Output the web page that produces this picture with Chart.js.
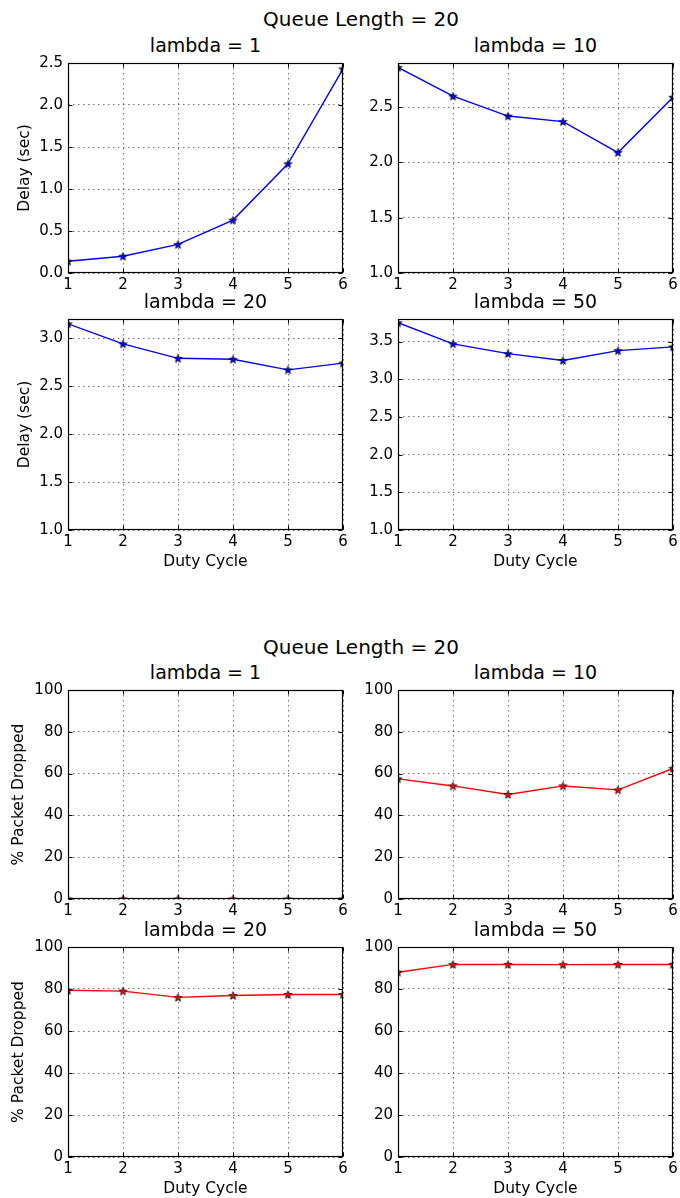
<!DOCTYPE html>
<html>
<head>
<meta charset="utf-8">
<script src="https://cdn.jsdelivr.net/npm/chart.js@4.4.1/dist/chart.umd.min.js"></script>
<style>
body { margin: 0; background: #fff; width: 680px; height: 1198px; position: relative; overflow: hidden; font-family: "DejaVu Sans", sans-serif; }
.t { position: absolute; transform: translate(-50%, -50%); white-space: nowrap; color: #000; line-height: normal; }
.panel { position: absolute; }
</style>
</head>
<body>
<script>
// data
const dutyCycle = [1, 2, 3, 4, 5, 6];

const delayL1  = [0.14, 0.20, 0.34, 0.63, 1.30, 2.43];
const delayL10 = [2.86, 2.60, 2.42, 2.37, 2.09, 2.59];
const delayL20 = [3.15, 2.94, 2.79, 2.78, 2.67, 2.74];
const delayL50 = [3.75, 3.47, 3.34, 3.25, 3.38, 3.43];

const dropL1  = [0, 0, 0, 0, 0, 0];
const dropL10 = [57.5, 54.1, 50.0, 54.1, 52.2, 62.5];
const dropL20 = [79.4, 79.0, 76.0, 76.9, 77.4, 77.4];
const dropL50 = [88.0, 91.7, 91.7, 91.6, 91.7, 91.7];

const figTitle = 'Queue Length = 20';
const delayLabel = 'Delay (sec)';
const dropLabel = '% Packet Dropped';
const xLabel = 'Duty Cycle';

Chart.defaults.font.family = '"DejaVu Sans", sans-serif';
Chart.defaults.color = '#000';

function addText(txt, cx, cy, size) {
    const d = document.createElement('div');
    d.className = 't';
    d.textContent = txt;
    d.style.left = cx + 'px';
    d.style.top = cy + 'px';
    d.style.fontSize = size + 'px';
    document.body.appendChild(d);
}

// filled 5 point star like matplotlib's '*'
function starImage(fill) {
    const c = document.createElement('canvas');
    c.width = 11; c.height = 11;
    const g = c.getContext('2d');
    g.beginPath();
    for (let i = 0; i < 10; i++) {
        const r = i % 2 ? 1.8 : 4.3;
        const a = -Math.PI / 2 + i * Math.PI / 5;
        const px = 5.5 + r * Math.cos(a), py = 5.9 + r * Math.sin(a);
        if (i) g.lineTo(px, py); else g.moveTo(px, py);
    }
    g.closePath();
    g.fillStyle = fill;
    g.fill();
    g.strokeStyle = '#000';
    g.lineWidth = 0.7;
    g.stroke();
    return c;
}

// axes frame + inward ticks
const framePlugin = {
    id: 'frame',
    afterDraw(chart) {
        const { ctx, chartArea: a, scales } = chart;
        const L = Math.round(a.left) + 0.5, R = Math.round(a.right) - 0.5;
        const T = Math.round(a.top) + 0.5, B = Math.round(a.bottom) - 0.5;
        ctx.save();
        ctx.strokeStyle = '#000';
        ctx.lineWidth = 1;
        ctx.beginPath();
        scales.x.ticks.forEach((t, i) => {
            const px = Math.round(scales.x.getPixelForTick(i)) + 0.5;
            ctx.moveTo(px, B); ctx.lineTo(px, B - 4);
            ctx.moveTo(px, T); ctx.lineTo(px, T + 4);
        });
        scales.y.ticks.forEach(t => {
            const py = Math.round(scales.y.getPixelForValue(t.value)) + 0.5;
            ctx.moveTo(L, py); ctx.lineTo(L + 4, py);
            ctx.moveTo(R, py); ctx.lineTo(R - 4, py);
        });
        ctx.stroke();
        ctx.lineWidth = 1.2;
        ctx.strokeRect(L, T, R - L, B - T);
        ctx.restore();
    }
};

const panels = [
    { title: 'lambda = 1',  vals: delayL1,  left: 68,  top: 59,  h: 214, min: 0, max: 2.5, step: 0.5, dec: 1, yTitle: delayLabel, xTitle: false, color: '#0000ff' },
    { title: 'lambda = 10', vals: delayL10, left: 398, top: 59,  h: 214, min: 1, max: 2.9, step: 0.5, dec: 1, yTitle: null,       xTitle: false, color: '#0000ff' },
    { title: 'lambda = 20', vals: delayL20, left: 68,  top: 315, h: 215, min: 1, max: 3.2, step: 0.5, dec: 1, yTitle: delayLabel, xTitle: true,  color: '#0000ff' },
    { title: 'lambda = 50', vals: delayL50, left: 398, top: 315, h: 215, min: 1, max: 3.8, step: 0.5, dec: 1, yTitle: null,       xTitle: true,  color: '#0000ff' },
    { title: 'lambda = 1',  vals: dropL1,   left: 68,  top: 686, h: 213, min: 0, max: 100, step: 20,  dec: 0, yTitle: dropLabel,  xTitle: false, color: '#ff0000' },
    { title: 'lambda = 10', vals: dropL10,  left: 398, top: 686, h: 213, min: 0, max: 100, step: 20,  dec: 0, yTitle: null,       xTitle: false, color: '#ff0000' },
    { title: 'lambda = 20', vals: dropL20,  left: 68,  top: 943, h: 214, min: 0, max: 100, step: 20,  dec: 0, yTitle: dropLabel,  xTitle: true,  color: '#ff0000' },
    { title: 'lambda = 50', vals: dropL50,  left: 398, top: 943, h: 214, min: 0, max: 100, step: 20,  dec: 0, yTitle: null,       xTitle: true,  color: '#ff0000' }
];

const plotW = 275;
const padL = 68, padT = 10, padR = 14, padB = 48;

addText(figTitle, 361, 19, 20);
addText(figTitle, 361, 647, 20);

panels.forEach(p => {
    addText(p.title, p.left + plotW / 2, p.top - 14, 19);

    const wrap = document.createElement('div');
    wrap.className = 'panel';
    wrap.style.left = (p.left - padL) + 'px';
    wrap.style.top = (p.top - padT) + 'px';
    const cv = document.createElement('canvas');
    cv.width = padL + plotW + padR;
    cv.height = padT + p.h + padB;
    wrap.appendChild(cv);
    document.body.appendChild(wrap);

    const dropped = p.dec === 0;
    new Chart(cv.getContext('2d'), {
        type: 'line',
        data: {
            labels: dutyCycle,
            datasets: [{
                data: p.vals,
                borderColor: p.color,
                borderWidth: 1.4,
                tension: 0,
                fill: false,
                clip: 0,
                pointStyle: starImage(p.color),
                pointRadius: 5
            }]
        },
        options: {
            responsive: false,
            animation: false,
            devicePixelRatio: 1,
            layout: { padding: { left: 0, top: padT, right: padR, bottom: 0 } },
            plugins: { legend: { display: false }, tooltip: { enabled: false } },
            scales: {
                x: {
                    offset: false,
                    grid: { color: 'rgba(0,0,0,0.55)', lineWidth: 1, drawTicks: false },
                    border: { display: false, dash: [1.5, 3.5] },
                    ticks: { font: { size: 15 }, padding: 3, maxRotation: 0 },
                    title: { display: p.xTitle, text: xLabel, font: { size: 15.5 }, padding: { top: 0, bottom: 7 } },
                    afterFit: s => { s.height = padB; }
                },
                y: {
                    min: p.min,
                    max: p.max,
                    grid: { color: 'rgba(0,0,0,0.55)', lineWidth: 1, drawTicks: false },
                    border: { display: false, dash: [1.5, 3.5] },
                    ticks: {
                        stepSize: p.step,
                        includeBounds: false,
                        font: { size: 15 },
                        padding: 5,
                        callback: v => Number(v).toFixed(p.dec)
                    },
                    title: {
                        display: !!p.yTitle,
                        text: p.yTitle || '',
                        font: { size: 15.5 },
                        padding: { top: dropped ? 10 : 16, bottom: 0 }
                    },
                    afterFit: s => { s.width = padL; }
                }
            }
        },
        plugins: [framePlugin]
    });
});
</script>
</body>
</html>
